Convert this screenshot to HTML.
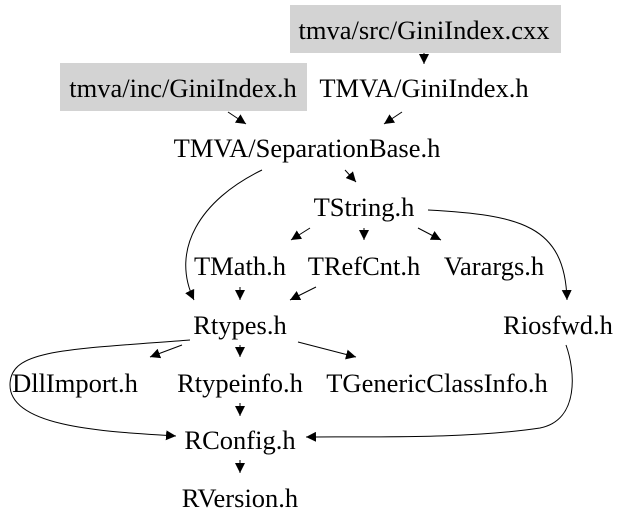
<!DOCTYPE html>
<html><head><meta charset="utf-8"><style>
html,body{margin:0;padding:0;background:#fff;}
svg{display:block;}
text{font-family:"Liberation Serif",serif;font-size:26.5px;fill:#000;text-anchor:middle;}
</style></head><body>
<svg width="632" height="528" viewBox="0 0 632 528" xmlns="http://www.w3.org/2000/svg">
<defs><marker id="a" viewBox="0 0 10 10" refX="10" refY="5" markerWidth="10" markerHeight="10" markerUnits="userSpaceOnUse" orient="auto"><path d="M0,0 L10,5 L0,10 z" fill="#000"/></marker></defs>
<rect x="290" y="5" width="271" height="48" fill="#d3d3d3"/>
<rect x="60" y="63" width="247" height="48" fill="#d3d3d3"/>
<text x="424" y="39">tmva/src/GiniIndex.cxx</text>
<text x="183" y="97">tmva/inc/GiniIndex.h</text>
<text x="424" y="97">TMVA/GiniIndex.h</text>
<text x="307" y="157">TMVA/SeparationBase.h</text>
<text x="364" y="216">TString.h</text>
<text x="240" y="275">TMath.h</text>
<text x="364" y="275">TRefCnt.h</text>
<text x="494" y="275">Varargs.h</text>
<text x="240" y="334">Rtypes.h</text>
<text x="558" y="334">Riosfwd.h</text>
<text x="75" y="392">DllImport.h</text>
<text x="240" y="392">Rtypeinfo.h</text>
<text x="437" y="392">TGenericClassInfo.h</text>
<text x="240" y="449">RConfig.h</text>
<text x="240" y="507">RVersion.h</text>
<g stroke="#000" stroke-width="1" fill="none" marker-end="url(#a)">
<path d="M424,53 L424,64"/>
<path d="M228,112 L246,124"/>
<path d="M402,112 L384,124"/>
<path d="M345,170 L356,182"/>
<path d="M262,170 C200,200 170,250 194,300"/>
<path d="M310,228 L291,240"/>
<path d="M364,228 L364,240"/>
<path d="M418,228 L441,240"/>
<path d="M428,210 C520,215 565,225 567,300"/>
<path d="M240,287 L240,300"/>
<path d="M316,287 L290,300"/>
<path d="M182,345 L150,357"/>
<path d="M240,345 L240,357"/>
<path d="M298,342 L356,357"/>
<path d="M190,340 C60,350 10,350 10,385 C10,430 120,432 176,436"/>
<path d="M240,403 L240,416"/>
<path d="M566,345 C575,370 580,420 540,428 C460,440 360,436 306,437"/>
<path d="M240,460 L240,473"/>
</g>
</svg>
</body></html>
